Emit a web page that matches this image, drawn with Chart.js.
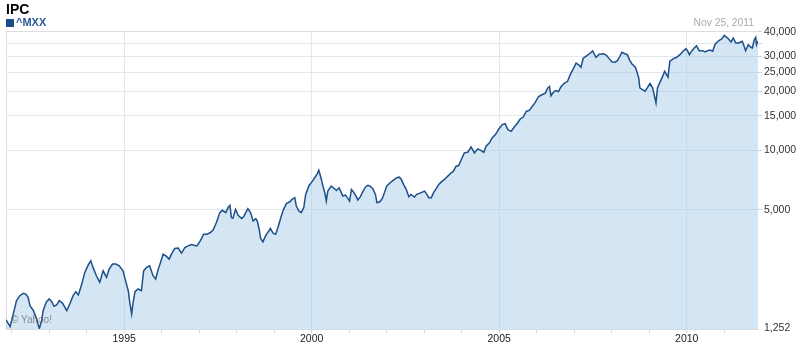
<!DOCTYPE html>
<html>
<head>
<meta charset="utf-8">
<title>IPC</title>
<script src="https://cdn.jsdelivr.net/npm/chart.js@4.4.0/dist/chart.umd.min.js"></script>
<style>
  html, body { margin: 0; padding: 0; background: #fff; }
  #wrap { position: relative; width: 810px; height: 348px; font-family: "Liberation Sans", Arial, sans-serif; }
  #chart { position: absolute; left: 0; top: 0; }
  .title { position: absolute; left: 6px; top: 1.5px; font-size: 14px; line-height: 14px; font-weight: bold; color: #000; }
  .legend { position: absolute; left: 6px; top: 17px; font-size: 11px; line-height: 11px; font-weight: bold; color: #2a5b98; }
  .legend i { display: inline-block; width: 8px; height: 8px; background: #1e4d8c; margin-right: 2px; vertical-align: -1px; }
  .date { position: absolute; right: 56px; top: 17.5px; font-size: 10.3px; line-height: 10.5px; color: #aaa; }
  .mark { position: absolute; left: 11px; top: 315px; font-size: 10px; line-height: 10px; color: rgba(90, 90, 90, 0.65); }
</style>
</head>
<body>
<div id="wrap">
  <canvas id="chart" width="810" height="348"></canvas>
  <div class="title">IPC</div>
  <div class="legend"><i></i>^MXX</div>
  <div class="date">Nov 25, 2011</div>
  <div class="mark">© Yahoo!</div>
</div>
<script>
// decimal years
const dates = [
  1991.85, 1991.96, 1992.09, 1992.13, 1992.22, 1992.31, 1992.38, 1992.44, 1992.49, 1992.58,
  1992.65, 1992.74, 1992.80, 1992.84, 1992.92, 1993.00, 1993.07, 1993.13, 1993.20, 1993.27,
  1993.36, 1993.47, 1993.55, 1993.64, 1993.71, 1993.78, 1993.87, 1993.95, 1994.04, 1994.11,
  1994.17, 1994.26, 1994.35, 1994.44, 1994.53, 1994.60, 1994.69, 1994.78, 1994.87, 1994.97,
  1995.05, 1995.11, 1995.15, 1995.20, 1995.24, 1995.29, 1995.37, 1995.46, 1995.52, 1995.60,
  1995.68, 1995.77, 1995.84, 1995.91, 1995.97, 1996.04, 1996.13, 1996.20, 1996.26, 1996.35,
  1996.44, 1996.53, 1996.62, 1996.70, 1996.80, 1996.86, 1996.94, 1997.03, 1997.12, 1997.21,
  1997.30, 1997.37, 1997.46, 1997.55, 1997.62, 1997.71, 1997.77, 1997.82, 1997.86, 1997.90,
  1997.97, 1998.04, 1998.13, 1998.19, 1998.24, 1998.30, 1998.37, 1998.44, 1998.51, 1998.55,
  1998.60, 1998.64, 1998.70, 1998.77, 1998.84, 1998.90, 1998.97, 1999.04, 1999.10, 1999.19,
  1999.25, 1999.33, 1999.41, 1999.48, 1999.55, 1999.59, 1999.66, 1999.72, 1999.79, 1999.84,
  1999.93, 2000.02, 2000.08, 2000.14, 2000.19, 2000.26, 2000.30, 2000.35, 2000.39, 2000.43,
  2000.52, 2000.61, 2000.66, 2000.73, 2000.79, 2000.83, 2000.90, 2000.97, 2001.01, 2001.06,
  2001.12, 2001.19, 2001.23, 2001.30, 2001.37, 2001.44, 2001.50, 2001.56, 2001.63, 2001.70,
  2001.74, 2001.81, 2001.88, 2001.94, 2002.00, 2002.09, 2002.18, 2002.27, 2002.34, 2002.39,
  2002.45, 2002.52, 2002.59, 2002.65, 2002.74, 2002.80, 2002.87, 2002.95, 2003.01, 2003.07,
  2003.12, 2003.19, 2003.25, 2003.32, 2003.39, 2003.45, 2003.54, 2003.63, 2003.72, 2003.78,
  2003.85, 2003.92, 2003.99, 2004.07, 2004.16, 2004.25, 2004.34, 2004.43, 2004.52, 2004.59,
  2004.65, 2004.74, 2004.81, 2004.90, 2004.99, 2005.08, 2005.16, 2005.23, 2005.32, 2005.40,
  2005.49, 2005.56, 2005.64, 2005.72, 2005.80, 2005.88, 2005.96, 2006.05, 2006.14, 2006.23,
  2006.29, 2006.34, 2006.38, 2006.43, 2006.50, 2006.58, 2006.65, 2006.74, 2006.82, 2006.89,
  2006.96, 2007.05, 2007.12, 2007.18, 2007.24, 2007.33, 2007.42, 2007.49, 2007.58, 2007.67,
  2007.78, 2007.86, 2007.93, 2008.01, 2008.09, 2008.15, 2008.22, 2008.27, 2008.36, 2008.42,
  2008.47, 2008.54, 2008.63, 2008.66, 2008.72, 2008.75, 2008.82, 2008.89, 2008.96, 2009.02,
  2009.09, 2009.13, 2009.18, 2009.22, 2009.29, 2009.35, 2009.41, 2009.46, 2009.50, 2009.55,
  2009.64, 2009.73, 2009.82, 2009.90, 2009.98, 2010.02, 2010.07, 2010.14, 2010.20, 2010.26,
  2010.33, 2010.42, 2010.49, 2010.55, 2010.62, 2010.69, 2010.76, 2010.85, 2010.94, 2011.00,
  2011.09, 2011.18, 2011.24, 2011.31, 2011.38, 2011.44, 2011.48, 2011.53, 2011.57, 2011.64,
  2011.71, 2011.75, 2011.80, 2011.84, 2011.86, 2011.90
];

// ^MXX close
const closes = [
  1385, 1280, 1611, 1734, 1837, 1889, 1873, 1802, 1635, 1543,
  1429, 1252, 1373, 1543, 1701, 1768, 1712, 1624, 1648, 1734,
  1681, 1543, 1668, 1837, 1925, 1852, 2104, 2411, 2625, 2760,
  2556, 2319, 2147, 2457, 2276, 2505, 2656, 2656, 2604, 2457,
  2147, 1947, 1701, 1485, 1701, 1925, 1986, 1947, 2457, 2556,
  2604, 2319, 2232, 2505, 2709, 2984, 2905, 2815, 2984, 3189,
  3203, 3019, 3225, 3286, 3339, 3313, 3286, 3483, 3766, 3766,
  3841, 3958, 4314, 4846, 4978, 4846, 5136, 5276, 4572, 4535,
  5036, 4696, 4519, 4625, 4846, 5077, 4846, 4394, 4519, 4394,
  3991, 3581, 3444, 3692, 3867, 4023, 3810, 3766, 4070, 4658,
  5036, 5401, 5483, 5658, 5770, 5232, 4937, 4846, 5136, 5995,
  6656, 7000, 7281, 7565, 7954, 7139, 6603, 6116, 5546, 6230,
  6603, 6406, 6281, 6480, 6116, 5879, 5948, 5704, 5546, 6354,
  6157, 5837, 5611, 5837, 6230, 6557, 6656, 6603, 6406, 5995,
  5444, 5483, 5704, 6116, 6603, 6869, 7080, 7281, 7331, 7139,
  6735, 6354, 5837, 5995, 5810, 5995, 6066, 6157, 6230, 5995,
  5770, 5770, 6116, 6406, 6735, 6918, 7139, 7418, 7717, 7861,
  8331, 8399, 9011, 9738, 9806, 10442, 9738, 10201, 10002, 9806,
  10516, 10938, 11596, 12049, 12875, 13535, 13692, 12770, 12520, 13175,
  13801, 14459, 14799, 15794, 15982, 16742, 17540, 18810, 19185, 19567,
  20732, 21122, 18958, 19567, 20162, 19928, 21122, 21978, 22390, 24199,
  25651, 27737, 27187, 26475, 29395, 30191, 31149, 31994, 29736, 30789,
  31005, 30436, 29256, 28155, 28058, 28589, 30078, 31514, 30898, 30646,
  28919, 27499, 26471, 25448, 23374, 20806, 20398, 20023, 20980, 21875,
  20806, 19251, 17478, 20806, 22311, 23566, 25269, 24291, 23566, 28383,
  29151, 29736, 30646, 31881, 32856, 32098, 30646, 32098, 33127, 34024,
  32098, 32098, 31622, 32098, 32363, 31881, 34701, 36058, 36909, 38408,
  37211, 35523, 37211, 35108, 35108, 35523, 35809, 33792, 32098, 34425,
  33402, 33127, 36483, 37516, 34425, 35900
];

const yearTicks = [1992, 1993, 1994, 1995, 1996, 1997, 1998, 1999, 2000, 2001,
  2002, 2003, 2004, 2005, 2006, 2007, 2008, 2009, 2010, 2011];
const yearLabels = [1995, 2000, 2005, 2010];
const priceTicks = [1252, 5000, 10000, 15000, 20000, 25000, 30000, 35000, 40000];
const priceLabels = [1252, 5000, 10000, 15000, 20000, 25000, 30000, 40000];

const GRID = '#e2e8f0';

// thin frame on top and left of the plot
const frame = {
  id: 'frame',
  beforeDatasetsDraw(chart) {
    const { ctx, chartArea: a } = chart;
    ctx.save();
    ctx.strokeStyle = '#dcdcdc';
    ctx.lineWidth = 1;
    ctx.beginPath();
    ctx.moveTo(a.left + 0.5, a.bottom);
    ctx.lineTo(a.left + 0.5, a.top + 0.5);
    ctx.lineTo(a.right, a.top + 0.5);
    ctx.stroke();
    ctx.restore();
  }
};

Chart.defaults.font.family = '"Liberation Sans", Arial, sans-serif';
Chart.defaults.font.size = 10.5;
Chart.defaults.color = '#333';

new Chart(document.getElementById('chart'), {
  type: 'line',
  data: {
    datasets: [{
      label: '^MXX',
      data: dates.map((d, i) => ({ x: d, y: closes[i] })),
      borderColor: '#1d4f8b',
      borderWidth: 1.5,
      backgroundColor: 'rgba(160, 200, 228, 0.45)',
      fill: 'start',
      pointRadius: 0,
      tension: 0
    }]
  },
  options: {
    responsive: false,
    animation: false,
    devicePixelRatio: 1,
    layout: { padding: { left: 6, top: 31, right: 0, bottom: 0 } },
    plugins: {
      legend: { display: false },
      tooltip: { enabled: false }
    },
    scales: {
      x: {
        type: 'linear',
        min: 1991.85,
        max: 2011.90,
        afterBuildTicks: (scale) => { scale.ticks = yearTicks.map(v => ({ value: v })); },
        afterFit: (scale) => { scale.height = 19; },
        ticks: {
          autoSkip: false,
          maxRotation: 0,
          padding: 0,
          color: '#222',
          callback: (v) => yearLabels.includes(v) ? String(v) : ''
        },
        grid: {
          color: (c) => (c.tick && yearLabels.includes(c.tick.value)) ? GRID : 'rgba(0,0,0,0)',
          tickColor: '#d4d4d4',
          tickLength: 4
        },
        border: { display: true, color: '#dcdcdc' }
      },
      y: {
        type: 'logarithmic',
        position: 'right',
        min: 1245,
        max: 40400,
        afterBuildTicks: (scale) => { scale.ticks = priceTicks.map(v => ({ value: v })); },
        afterFit: (scale) => { scale.width = 52; },
        ticks: {
          autoSkip: false,
          padding: 2,
          color: '#333',
          callback: (v) => priceLabels.includes(v) ? v.toLocaleString('en-US') : ''
        },
        grid: {
          color: (c) => (c.tick && c.tick.value === 1252) ? 'rgba(0,0,0,0)' : GRID,
          tickColor: (c) => (c.tick && c.tick.value === 1252) ? 'rgba(0,0,0,0)' : '#c8d4e2',
          tickLength: 4
        },
        border: { display: false }
      }
    }
  },
  plugins: [frame]
});
</script>
</body>
</html>
